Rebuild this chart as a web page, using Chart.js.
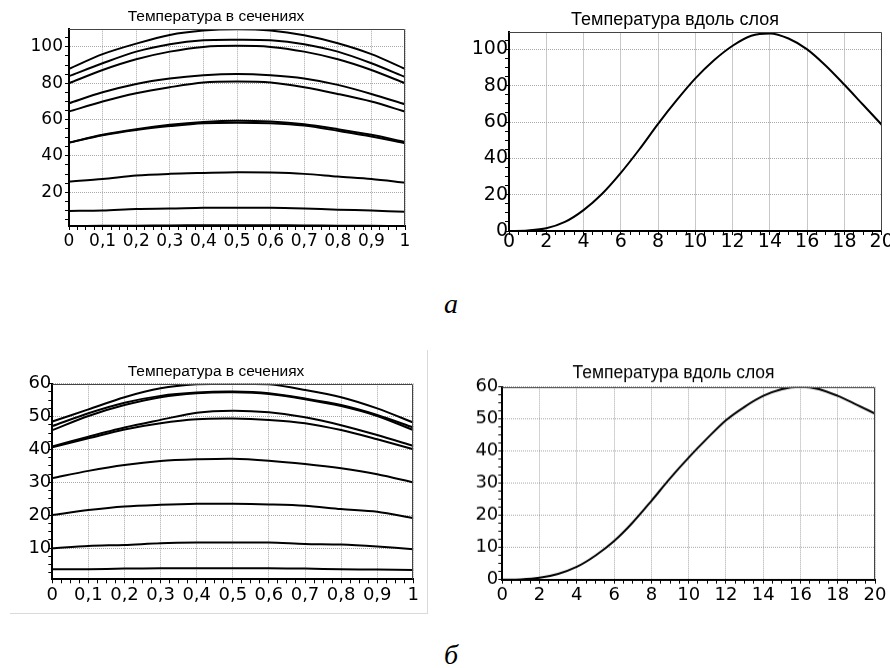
<!DOCTYPE html>
<html lang="ru">
<head>
<meta charset="UTF-8">
<title>Температура</title>
<script src="https://cdn.jsdelivr.net/npm/chart.js@4.4.0/dist/chart.umd.min.js"></script>
<style>
  html, body { margin: 0; padding: 0; background: #fff; }
  body { width: 890px; height: 668px; position: relative; overflow: hidden; }
  .box { position: absolute; }
  .lbl { position: absolute; font: italic 28px 'Liberation Serif', serif; line-height: 28px; color: #000; }
  .frame { position: absolute; left: 10px; top: 350px; width: 417px; height: 263px;
           border-right: 1px solid #d9d9d9; border-bottom: 1px solid #d9d9d9; }
</style>
</head>
<body>
<div class="frame"></div>
<div class="box" style="left:0;top:0;width:425px;height:255px"><canvas id="tl"></canvas></div>
<div class="box" style="left:440px;top:0;width:458px;height:260px"><canvas id="tr"></canvas></div>
<div class="box" style="left:0;top:340px;width:427.3px;height:268.3px"><canvas id="bl"></canvas></div>
<div class="box" style="left:440px;top:340px;width:451px;height:267.7px"><canvas id="br"></canvas></div>
<div class="lbl" style="left:444px;top:290px">а</div>
<div class="lbl" style="left:444px;top:641px">б</div>

<script>
// cross-section coordinate and layer coordinate
const xSection = [0, 0.1, 0.2, 0.3, 0.4, 0.5, 0.6, 0.7, 0.8, 0.9, 1];
const xLayer = [0, 1, 2, 3, 4, 5, 6, 7, 8, 9, 10, 11, 12, 13, 14, 15, 16, 17, 18, 19, 20];

// (a) temperature in sections, one row per section
const sectionTempA = [
  [87.9, 96.0, 101.8, 106.6, 109.0, 109.7, 109.0, 106.4, 102.0, 96.0, 87.9],
  [83.9, 91.0, 97.4, 101.5, 103.7, 104.0, 103.7, 101.5, 97.4, 91.0, 83.5],
  [80.0, 87.3, 93.2, 97.4, 100.0, 100.6, 100.0, 97.4, 93.2, 87.3, 80.0],
  [69.0, 75.0, 79.6, 82.6, 84.4, 85.1, 84.4, 82.6, 79.1, 74.1, 68.4],
  [64.4, 69.9, 74.5, 77.8, 80.4, 80.9, 80.4, 77.8, 74.1, 69.9, 64.4],
  [47.3, 51.6, 54.7, 57.1, 58.7, 59.4, 58.9, 57.4, 54.7, 51.6, 47.7],
  [47.3, 51.4, 54.3, 56.4, 58.0, 58.3, 58.0, 56.7, 53.8, 50.7, 47.0],
  [25.9, 27.3, 29.2, 30.1, 30.6, 31.0, 30.8, 30.1, 28.6, 27.3, 25.3],
  [9.7, 9.9, 10.8, 11.0, 11.4, 11.4, 11.4, 11.0, 10.4, 9.9, 9.2],
  [1.4, 1.5, 1.6, 1.7, 1.8, 1.8, 1.8, 1.7, 1.6, 1.5, 1.4]
];
// (a) temperature along the layer
const layerTempA = [0, 0.3, 1.5, 5, 11.5, 20.5, 32, 45, 59, 72, 84, 94, 102, 107.5, 108.8, 106, 100, 91, 80.5, 69.5, 58.5];

// (б) temperature in sections
const sectionTempB = [
  [48.5, 52.2, 55.9, 58.6, 59.8, 60.0, 59.8, 58.1, 55.9, 52.5, 48.2],
  [47.1, 51.0, 54.2, 56.3, 57.3, 57.6, 57.1, 55.5, 53.5, 50.5, 46.7],
  [45.9, 50.2, 53.5, 55.9, 57.1, 57.4, 56.9, 55.3, 53.2, 50.2, 45.9],
  [40.9, 43.9, 46.7, 49.0, 51.2, 51.8, 51.3, 49.8, 47.4, 44.4, 41.1],
  [40.7, 43.4, 46.1, 48.0, 49.2, 49.4, 49.0, 48.0, 45.9, 43.1, 40.1],
  [31.3, 33.5, 35.3, 36.5, 37.0, 37.2, 36.6, 35.6, 34.3, 32.5, 30.0],
  [20.1, 21.6, 22.7, 23.2, 23.5, 23.5, 23.3, 22.9, 21.9, 21.1, 19.1],
  [10.0, 10.7, 11.0, 11.5, 11.7, 11.7, 11.7, 11.3, 11.1, 10.5, 9.7],
  [3.6, 3.6, 3.8, 3.9, 3.9, 3.9, 3.9, 3.8, 3.6, 3.5, 3.4],
  [0.55, 0.56, 0.57, 0.58, 0.6, 0.6, 0.6, 0.58, 0.57, 0.56, 0.55]
];
// (б) temperature along the layer
const layerTempB = [0, 0.1, 0.6, 1.8, 4, 7.5, 12, 17.8, 24.5, 31.5, 38, 44, 49.6, 53.8, 57.2, 59.3, 60, 59.3, 57.2, 54.5, 51.7];

const titleSection = 'Температура в сечениях';
const titleLayer = 'Температура вдоль слоя';

Chart.defaults.font.family = "'DejaVu Sans', sans-serif";
Chart.defaults.font.size = 17;
Chart.defaults.color = '#000';

function isStep(v, s) { return Math.abs(v / s - Math.round(v / s)) < 1e-6; }
function commaNum(v) { return String(Math.round(v * 10) / 10).replace('.', ','); }
function intNum(v) { return String(Math.round(v)); }

// thin frame on top and right of the plot box
const boxFrame = {
  id: 'boxFrame',
  afterDatasetsDraw(chart) {
    const { ctx, chartArea: a } = chart;
    ctx.save();
    ctx.strokeStyle = '#444';
    ctx.lineWidth = 1;
    ctx.beginPath();
    ctx.moveTo(a.left, Math.round(a.top) + 0.5);
    ctx.lineTo(Math.round(a.right) - 0.5, Math.round(a.top) + 0.5);
    ctx.lineTo(Math.round(a.right) - 0.5, a.bottom);
    ctx.stroke();
    ctx.restore();
  }
};

function axis(min, max, minor, major, fmt, gridColor, dash, fit, fsize, pad) {
  return {
    type: 'linear', min: min, max: max,
    afterBuildTicks: s => { s.ticks = s.ticks.filter(t => isStep(t.value, minor)); },
    afterFit: fit,
    ticks: {
      stepSize: minor, autoSkip: false, maxRotation: 0, padding: pad, includeBounds: false,
      font: { size: fsize },
      callback: v => isStep(v, major) ? fmt(v) : ''
    },
    grid: {
      color: c => (c.tick && isStep(c.tick.value, major)) ? gridColor : 'rgba(0,0,0,0)',
      tickColor: '#000', tickLength: 4, lineWidth: 1
    },
    border: { color: '#000', width: 2, dash: dash }
  };
}

function makeChart(id, p) {
  new Chart(document.getElementById(id), {
    type: 'line',
    data: {
      datasets: p.series.map(ys => ({
        data: p.xs.map((x, i) => ({ x: x, y: ys[i] })),
        borderColor: '#000', borderWidth: 2, pointRadius: 0, fill: false,
        tension: 0.3, cubicInterpolationMode: p.mono ? 'monotone' : 'default'
      }))
    },
    options: {
      responsive: true, maintainAspectRatio: false, animation: false, devicePixelRatio: 1,
      layout: { padding: { left: p.pad[0], right: p.pad[1], top: 0, bottom: 0 } },
      plugins: {
        legend: { display: false },
        tooltip: { enabled: false },
        title: {
          display: true, text: p.title, color: '#000',
          font: { family: "'Liberation Sans', Arial, sans-serif", size: p.tsize, weight: 'normal' },
          padding: { top: p.tpad[0], bottom: p.tpad[1] }
        }
      },
      scales: {
        x: axis(p.x[0], p.x[1], p.x[2], p.x[3], p.xfmt, p.xGrid, p.xDash,
                s => { s.height = 29; }, p.fs, p.lpad[0]),
        y: axis(p.y[0], p.y[1], p.y[2], p.y[3], intNum, '#a8a8a8', [1, 1],
                s => { s.width = p.yw; }, p.fs, p.lpad[1])
      }
    },
    plugins: [boxFrame]
  });
}

makeChart('tl', {
  title: titleSection, xs: xSection, series: sectionTempA,
  x: [0, 1, 0.025, 0.1], xfmt: commaNum, xGrid: '#a8a8a8', xDash: [1, 1],
  y: [1.4, 109.7, 5, 20], yw: 42, pad: [27, 20], tsize: 15.5, tpad: [7.7, 3.0],
  fs: 17, lpad: [1, 2]
});
makeChart('tr', {
  title: titleLayer, xs: xLayer, series: [layerTempA], mono: true,
  x: [0, 20, 0.5, 2], xfmt: intNum, xGrid: '#c8c8c8', xDash: [],
  y: [0, 109.4, 5, 20], yw: 40.7, pad: [28.3, 16.3], tsize: 18, tpad: [9.2, 1.5],
  fs: 19, lpad: [-4, -3]
});
makeChart('bl', {
  title: titleSection, xs: xSection, series: sectionTempB,
  x: [0, 1, 0.025, 0.1], xfmt: commaNum, xGrid: '#a8a8a8', xDash: [1, 1],
  y: [0.55, 60, 2.5, 10], yw: 33.6, pad: [18.7, 14], tsize: 15.5, tpad: [22.7, 2.4],
  fs: 18, lpad: [1, -3]
});
makeChart('br', {
  title: titleLayer, xs: xLayer, series: [layerTempB], mono: true,
  x: [0, 20, 0.5, 2], xfmt: intNum, xGrid: '#a8a8a8', xDash: [1, 1],
  y: [0, 60, 2.5, 10], yw: 30.3, pad: [32, 16], tsize: 17.5, tpad: [22.5, 3.2],
  fs: 18, lpad: [1, 0]
});
</script>
</body>
</html>
